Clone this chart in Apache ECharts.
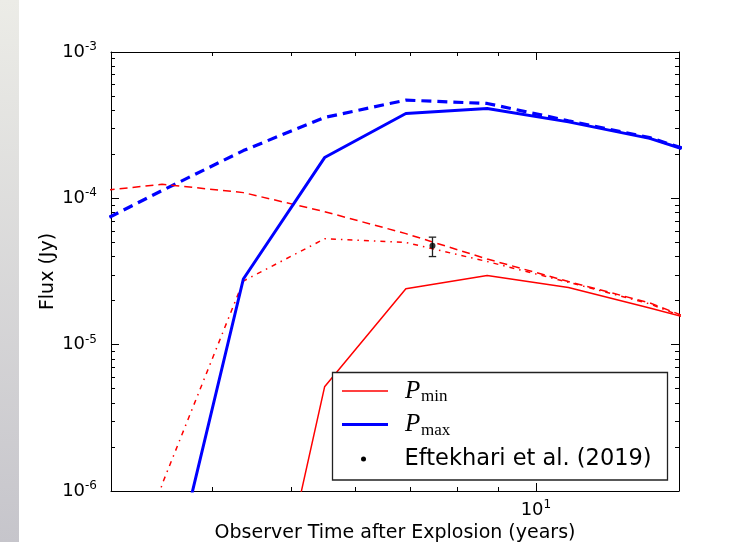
<!DOCTYPE html>
<html>
<head>
<meta charset="utf-8">
<script src="https://cdn.jsdelivr.net/npm/echarts@6/dist/echarts.min.js"></script>
<style>
  html, body { margin: 0; padding: 0; background: #ffffff; }
  #chart { width: 745px; height: 542px; }
</style>
</head>
<body>
<div id="chart"></div>
<script>
// ---- data ----
const timeYears = [2.754, 3.467, 4.365, 5.495, 6.918, 8.710, 10.965, 13.804, 17.378];
const pMaxSolid  = [5e-9, 1.35e-7, 2.81e-5, 1.90e-4, 3.80e-4, 4.11e-4, 3.33e-4, 2.57e-4, 1.71e-4];
const pMaxDashed = [5.92e-5, 1.13e-4, 2.12e-4, 3.57e-4, 4.69e-4, 4.45e-4, 3.39e-4, 2.60e-4, 1.72e-4];
const pMinSolid  = [1e-10, 1e-9, 1.64e-8, 5.15e-6, 2.41e-5, 2.97e-5, 2.46e-5, 1.78e-5, 1.27e-5];
const pMinDashed = [1.09e-4, 1.248e-4, 1.094e-4, 8.11e-5, 5.74e-5, 3.85e-5, 2.70e-5, 1.93e-5, 1.18e-5];
const pMinDotDash = [1e-8, 1.11e-6, 2.72e-5, 5.29e-5, 4.99e-5, 3.70e-5, 2.67e-5, 1.90e-5, 1.16e-5];

const obsTime = [7.46];
const obsFlux = [4.74e-5];
const obsLow  = [4.00e-5];
const obsHigh = [5.43e-5];

const xMajorTicks = [10];
const xMinorTicks = [4, 5, 6, 7, 8, 9];
const yMajorTicks = [1e-6, 1e-5, 1e-4, 1e-3];
const yMinorTicks = [2e-6, 3e-6, 4e-6, 5e-6, 6e-6, 7e-6, 8e-6, 9e-6,
                     2e-5, 3e-5, 4e-5, 5e-5, 6e-5, 7e-5, 8e-5, 9e-5,
                     2e-4, 3e-4, 4e-4, 5e-4, 6e-4, 7e-4, 8e-4, 9e-4];

const legendNames = ['P', 'P', 'Eftekhari et al. (2019)'];
const legendSubs = ['min', 'max', ''];
const xTitle = 'Observer Time after Explosion (years)';
const yTitle = 'Flux (Jy)';

// ---- chart ----
const FONT = '"DejaVu Sans", sans-serif';
const pair = (xs, ys) => xs.map((x, i) => [x, ys[i]]);
const powLabel = v => '{b|10}{s|' + Math.round(Math.log10(v)) + '}';
const labelRich = {
  b: { fontSize: 18, fontFamily: FONT, color: '#000', lineHeight: 22 },
  s: { fontSize: 12, fontFamily: FONT, color: '#000', lineHeight: 12, verticalAlign: 'top' }
};
const lineCol = '#000';

function xAx(pos, ticks, len, major, showLabel) {
  return {
    type: 'log', logBase: 10, min: 3, max: 15, position: pos,
    axisLine: { show: major, onZero: false, lineStyle: { color: lineCol, width: 1 } },
    axisTick: { show: true, inside: true, length: len, customValues: ticks, lineStyle: { color: lineCol, width: 1 } },
    axisLabel: showLabel ? { show: true, customValues: ticks, formatter: powLabel, rich: labelRich, margin: 8 } : { show: false },
    splitLine: { show: false }, minorTick: { show: false },
    name: showLabel ? xTitle : '', nameLocation: 'middle', nameGap: 30,
    nameTextStyle: { fontSize: 19, fontFamily: FONT, color: '#000' }
  };
}
function yAx(pos, ticks, len, major, showLabel) {
  return {
    type: 'log', logBase: 10, min: 1e-6, max: 1e-3, position: pos,
    axisLine: { show: major, onZero: false, lineStyle: { color: lineCol, width: 1 } },
    axisTick: { show: true, inside: true, length: len, customValues: ticks, lineStyle: { color: lineCol, width: 1 } },
    axisLabel: showLabel ? { show: true, customValues: ticks, formatter: powLabel, rich: labelRich, margin: 14 } : { show: false },
    splitLine: { show: false }, minorTick: { show: false },
    name: showLabel ? yTitle : '', nameLocation: 'middle', nameGap: 53, nameRotate: 90,
    nameMoveOverlap: false,
    nameTextStyle: { fontSize: 19, fontFamily: FONT, color: '#000' }
  };
}

const chart = echarts.init(document.getElementById('chart'), null, { renderer: 'canvas' });

const lgX = 332.5, lgY = 372.5;
const option = {
  backgroundColor: '#ffffff',
  animation: false,
  grid: { left: 111, right: 66, top: 52, bottom: 51, containLabel: false, outerBoundsMode: 'none' },
  xAxis: [
    xAx('bottom', xMajorTicks, 8, true, true),
    xAx('bottom', xMinorTicks, 4, false, false),
    xAx('top', xMajorTicks, 8, true, false),
    xAx('top', xMinorTicks, 4, false, false)
  ],
  yAxis: [
    yAx('left', yMajorTicks, 8, true, true),
    yAx('left', yMinorTicks, 4, false, false),
    yAx('right', yMajorTicks, 8, true, false),
    yAx('right', yMinorTicks, 4, false, false)
  ],
  series: [
    { name: 'Pmax dashed', type: 'line', data: pair(timeYears, pMaxDashed), symbol: 'none', clip: true,
      lineStyle: { color: '#0000ff', width: 3.2, type: [10, 6] }, z: 3 },
    { name: 'Pmin dashed', type: 'line', data: pair(timeYears, pMinDashed), symbol: 'none', clip: true,
      lineStyle: { color: '#ff0000', width: 1.5, type: [8, 5] }, z: 3 },
    { name: 'Pmin dotdash', type: 'line', data: pair(timeYears, pMinDotDash), symbol: 'none', clip: true,
      lineStyle: { color: '#ff0000', width: 1.5, type: [5, 5, 1.5, 5] }, z: 3 },
    { name: 'Pmin', type: 'line', data: pair(timeYears, pMinSolid), symbol: 'none', clip: true,
      lineStyle: { color: '#ff0000', width: 1.5 }, z: 3 },
    { name: 'Pmax', type: 'line', data: pair(timeYears, pMaxSolid), symbol: 'none', clip: true,
      lineStyle: { color: '#0000ff', width: 3 }, z: 4 },
    { name: 'err', type: 'custom', data: obsTime.map((t, i) => [t, obsLow[i], obsHigh[i]]), z: 5,
      renderItem: function (params, api) {
        const lo = api.coord([api.value(0), api.value(1)]);
        const hi = api.coord([api.value(0), api.value(2)]);
        const w = 3.7, st = { stroke: '#222', lineWidth: 1.3 };
        return { type: 'group', children: [
          { type: 'line', shape: { x1: lo[0], y1: lo[1], x2: hi[0], y2: hi[1] }, style: st },
          { type: 'line', shape: { x1: lo[0] - w, y1: lo[1], x2: lo[0] + w, y2: lo[1] }, style: st },
          { type: 'line', shape: { x1: hi[0] - w, y1: hi[1], x2: hi[0] + w, y2: hi[1] }, style: st }
        ] };
      } },
    { name: 'Eftekhari et al. (2019)', type: 'scatter', data: pair(obsTime, obsFlux), symbol: 'circle', symbolSize: 6,
      itemStyle: { color: '#000' }, z: 6 }
  ],
  graphic: [
    { type: 'rect', shape: { x: 0, y: 0, width: 19, height: 542 }, z: 1,
      style: { fill: new echarts.graphic.LinearGradient(0, 0, 0, 1, [
        { offset: 0, color: '#ececE7' }, { offset: 1, color: '#c6c5cb' }]) } },
    { type: 'rect', z: 100, shape: { x: lgX, y: lgY, width: 335, height: 107.5 },
      style: { fill: '#ffffff', stroke: '#222', lineWidth: 1.3 } },
    { type: 'line', z: 101, shape: { x1: 342, y1: 391, x2: 388, y2: 391 }, style: { stroke: '#ff0000', lineWidth: 1.5 } },
    { type: 'line', z: 101, shape: { x1: 342, y1: 424.5, x2: 388, y2: 424.5 }, style: { stroke: '#0000ff', lineWidth: 3 } },
    { type: 'circle', z: 101, shape: { cx: 363.5, cy: 459, r: 2.5 }, style: { fill: '#000' } },
    { type: 'text', z: 101, style: { text: legendNames[0], x: 405, y: 391.5, verticalAlign: 'middle',
      font: 'italic 25px "Liberation Serif", serif', fill: '#000' } },
    { type: 'text', z: 101, style: { text: legendSubs[0], x: 421, y: 397, verticalAlign: 'middle',
      font: '17px "Liberation Serif", serif', fill: '#000' } },
    { type: 'text', z: 101, style: { text: legendNames[1], x: 405, y: 424.8, verticalAlign: 'middle',
      font: 'italic 25px "Liberation Serif", serif', fill: '#000' } },
    { type: 'text', z: 101, style: { text: legendSubs[1], x: 421, y: 430.5, verticalAlign: 'middle',
      font: '17px "Liberation Serif", serif', fill: '#000' } },
    { type: 'text', z: 101, style: { text: legendNames[2], x: 404.5, y: 459, verticalAlign: 'middle',
      font: '22.5px "DejaVu Sans", sans-serif', fill: '#000' } }
  ]
};
chart.setOption(option);
</script>
</body>
</html>
